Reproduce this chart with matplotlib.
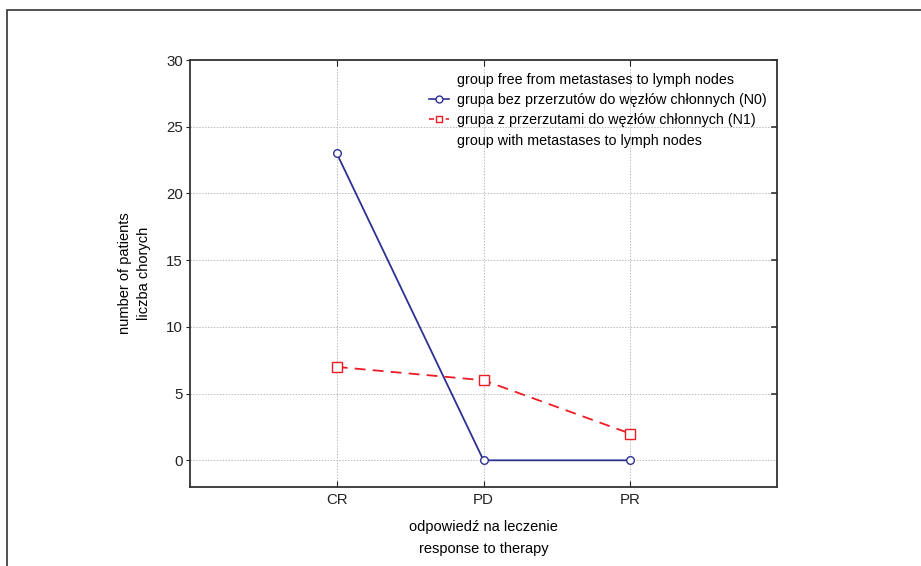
import matplotlib.pyplot as plt
from matplotlib.lines import Line2D
from matplotlib.patches import Rectangle

plt.rcParams['font.family'] = ['Liberation Sans', 'DejaVu Sans']

categories = ["CR", "PD", "PR"]
n0_values = [23, 0, 0]
n1_values = [7, 6, 2]

label_top = "group free from metastases to lymph nodes"
label_n0 = "grupa bez przerzutów do węzłów chłonnych (N0)"
label_n1 = "grupa z przerzutami do węzłów chłonnych (N1)"
label_bottom = "group with metastases to lymph nodes"

blue = "#2e3192"
red = "#ed1c24"

fig = plt.figure(figsize=(9.21, 5.66), dpi=100)
ax = fig.add_axes([190 / 921, 1 - 487 / 566, 587 / 921, 427 / 566])

x = list(range(len(categories)))
ax.plot(x, n0_values, color=blue, lw=1.3, marker='o', ms=5.5,
        mfc='white', mec=blue, mew=1.0, zorder=3)
ax.plot(x, n1_values, color=red, lw=1.3, ls=(0, (6, 4)), marker='s', ms=6.5,
        mfc='white', mec=red, mew=1.0, zorder=3)

ax.set_xlim(-1, 3)
ax.set_ylim(-2, 30)
ax.set_xticks(x)
ax.set_xticklabels(categories)
ax.set_yticks(range(0, 31, 5))
ax.tick_params(axis='both', labelsize=10.8, colors='#222222', length=4)
ax.tick_params(axis='x', direction='in', top=True, pad=4)
ax.tick_params(axis='y', direction='out', right=False, length=3, pad=2)
for s in ax.spines.values():
    s.set_linewidth(1.3)
    s.set_color('#333333')
ax.grid(True, color='#bbbbbb', ls=(0, (1.5, 1.5)), lw=0.7)

# inward ticks on the right spine
for yv in range(5, 31, 5):
    ax.plot([1, 0.992], [yv, yv], color='#333333', lw=1.2,
            transform=ax.get_yaxis_transform(), clip_on=False)

ax.set_ylabel("number of patients\nliczba chorych", fontsize=10.5,
              labelpad=11, linespacing=1.45)
ax.set_xlabel("odpowiedź na leczenie\nresponse to therapy", fontsize=10.5,
              labelpad=10, linespacing=1.65)

handles = [
    Line2D([], [], ls='none'),
    Line2D([], [], color=blue, lw=1.2, marker='o', ms=5, mfc='white', mec=blue),
    Line2D([], [], color=red, lw=1.2, ls=(0, (3, 2)), marker='s', ms=5, mfc='white', mec=red),
    Line2D([], [], ls='none'),
]
ax.legend(handles, [label_top, label_n0, label_n1, label_bottom],
          loc='upper left', bbox_to_anchor=(233 / 587, 0.984), frameon=False,
          fontsize=10.3, handlelength=1.4, handletextpad=0.6,
          labelspacing=0.45, borderaxespad=0)

fig.add_artist(Rectangle((7 / 921, -0.2), 1.2, 1.2 - 10 / 566,
                         transform=fig.transFigure, fill=False,
                         edgecolor='#333333', lw=1.2))

fig.savefig("out.png", dpi=100)
